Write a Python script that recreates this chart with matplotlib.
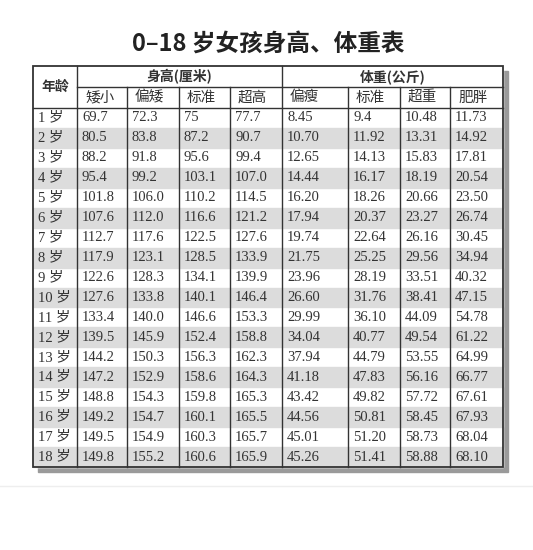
import matplotlib.pyplot as plt
from matplotlib.patches import Rectangle

plt.rcParams['font.family'] = ['Noto Sans CJK SC', 'DejaVu Sans']

# 数据
ages = [f"{i} 岁" for i in range(1, 19)]
h_short = ["69.7", "80.5", "88.2", "95.4", "101.8", "107.6", "112.7", "117.9", "122.6",
           "127.6", "133.4", "139.5", "144.2", "147.2", "148.8", "149.2", "149.5", "149.8"]
h_low = ["72.3", "83.8", "91.8", "99.2", "106.0", "112.0", "117.6", "123.1", "128.3",
         "133.8", "140.0", "145.9", "150.3", "152.9", "154.3", "154.7", "154.9", "155.2"]
h_std = ["75", "87.2", "95.6", "103.1", "110.2", "116.6", "122.5", "128.5", "134.1",
         "140.1", "146.6", "152.4", "156.3", "158.6", "159.8", "160.1", "160.3", "160.6"]
h_tall = ["77.7", "90.7", "99.4", "107.0", "114.5", "121.2", "127.6", "133.9", "139.9",
          "146.4", "153.3", "158.8", "162.3", "164.3", "165.3", "165.5", "165.7", "165.9"]
w_thin = ["8.45", "10.70", "12.65", "14.44", "16.20", "17.94", "19.74", "21.75", "23.96",
          "26.60", "29.99", "34.04", "37.94", "41.18", "43.42", "44.56", "45.01", "45.26"]
w_std = ["9.4", "11.92", "14.13", "16.17", "18.26", "20.37", "22.64", "25.25", "28.19",
         "31.76", "36.10", "40.77", "44.79", "47.83", "49.82", "50.81", "51.20", "51.41"]
w_over = ["10.48", "13.31", "15.83", "18.19", "20.66", "23.27", "26.16", "29.56", "33.51",
          "38.41", "44.09", "49.54", "53.55", "56.16", "57.72", "58.45", "58.73", "58.88"]
w_fat = ["11.73", "14.92", "17.81", "20.54", "23.50", "26.74", "30.45", "34.94", "40.32",
         "47.15", "54.78", "61.22", "64.99", "66.77", "67.61", "67.93", "68.04", "68.10"]
sub_headers = ["矮小", "偏矮", "标准", "超高", "偏瘦", "标准", "超重", "肥胖"]
columns = [ages, h_short, h_low, h_std, h_tall, w_thin, w_std, w_over, w_fat]

# 版面 (像素)
xs = [33, 77, 127, 179, 230, 282, 348, 400, 450, 503]
top, mid, head_bot, bot = 66, 87, 108, 467
row_h = (bot - head_bot) / 18
ink = "#333333"
serif = ["Liberation Serif", "Noto Sans CJK SC"]

fig = plt.figure(figsize=(5.33, 5.5), dpi=100)
ax = fig.add_axes([0, 0, 1, 1])
ax.set_xlim(0, 533)
ax.set_ylim(550, 0)
ax.axis("off")

ax.text(268, 44, "0–18 岁女孩身高、体重表", ha="center", va="center",
        fontsize=17, fontweight="bold", color="#222222")

# 阴影
ax.add_patch(Rectangle((xs[0] + 5, top + 5), xs[-1] - xs[0], bot - top, color="#9a9a9a", zorder=0))
ax.add_patch(Rectangle((xs[0], top), xs[-1] - xs[0], bot - top, color="white", zorder=1))

# 隔行底色
for i in range(18):
    if i % 2 == 1:
        y0 = head_bot + i * row_h
        ax.add_patch(Rectangle((xs[0], y0), xs[-1] - xs[0], row_h, color="#dcdcdc", zorder=1))

lw = 1.0
ax.add_patch(Rectangle((xs[0], top), xs[-1] - xs[0], bot - top, fill=False, ec=ink, lw=1.3, zorder=3))
ax.plot([xs[1], xs[-1]], [mid, mid], color=ink, lw=lw, zorder=3)
ax.plot([xs[0], xs[-1]], [head_bot, head_bot], color=ink, lw=lw, zorder=3)
for j, x in enumerate(xs[1:-1], start=1):
    y_start = top if j in (1, 5) else mid
    ax.plot([x, x], [y_start, bot], color=ink, lw=lw, zorder=3)

# 表头
ax.text((xs[0] + xs[1]) / 2, (top + head_bot) / 2, "年龄", ha="center", va="center",
        fontsize=10, fontweight="bold", color=ink, zorder=4)
ax.text((xs[1] + xs[5]) / 2, (top + mid) / 2, "身高(厘米)", ha="center", va="center",
        fontsize=10, fontweight="bold", color=ink, zorder=4)
ax.text((xs[5] + xs[-1]) / 2, (top + mid) / 2, "体重(公斤)", ha="center", va="center",
        fontsize=10, fontweight="bold", color=ink, zorder=4)
for j, h in enumerate(sub_headers):
    ax.text(xs[j + 1] + 8, (mid + head_bot) / 2, h, ha="left", va="center",
            fontsize=10.5, color=ink, zorder=4)

# 数据
for j, col in enumerate(columns):
    for i, v in enumerate(col):
        y = head_bot + (i + 0.5) * row_h
        ax.text(xs[j] + 5, y, v, ha="left", va="center", fontsize=10.5,
                family=serif, color=ink, zorder=4)

ax.plot([0, 533], [486, 486], color="#eeeeee", lw=1)

fig.savefig("out.png", dpi=100)
